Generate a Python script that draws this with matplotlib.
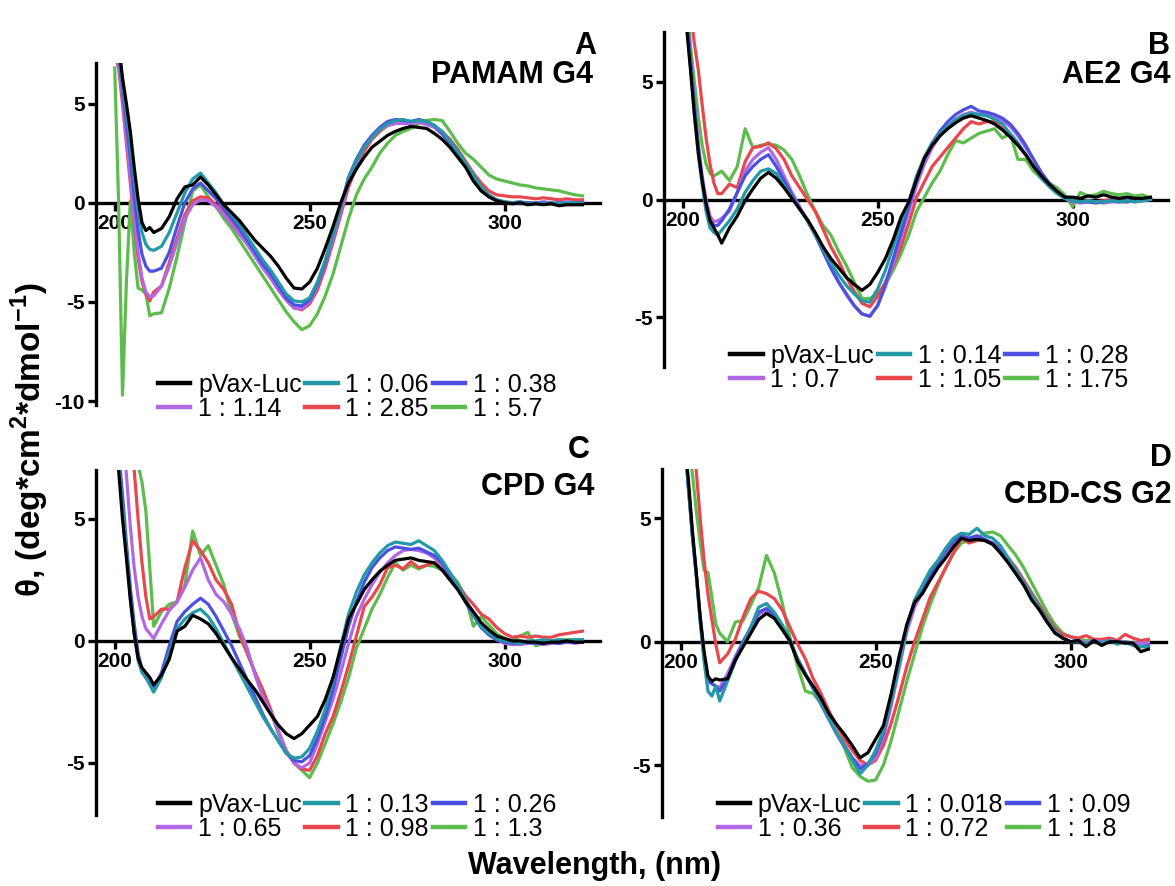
import numpy as np
import matplotlib.pyplot as plt

plt.rcParams['font.family'] = ['Liberation Sans', 'DejaVu Sans']
plt.rcParams['axes.unicode_minus'] = False
plt.rcParams['mathtext.fontset'] = 'custom'
plt.rcParams['mathtext.rm'] = 'Liberation Sans'
plt.rcParams['mathtext.bf'] = 'Liberation Sans:bold'

# Wavelength grid (nm): 1 nm steps up to 210, then 2 nm steps
wavelength = np.r_[200:211, 212:321:2]

colors = ['#000000', '#2399a8', '#4b50e0', '#b168e4', '#e8474e', '#5dbd4c']

# ---- A: PAMAM G4 ----
labels_a = ['pVax-Luc', '1 : 0.06', '1 : 0.38', '1 : 1.14', '1 : 2.85', '1 : 5.7']
a_dna = [9.5, 8.0, 6.3, 5.0, 3.6, 1.8, 0.2, -1.0, -1.4, -1.25, -1.5,
         -1.3, -0.7, 0.2, 0.8, 0.9, 1.3, 0.9, 0.4, -0.1, -0.5,
         -0.9, -1.4, -1.9, -2.3, -2.7, -3.2, -3.8, -4.3, -4.35, -4.0,
         -3.3, -2.3, -1.2, 0.0, 1.0, 1.7, 2.3, 2.8, 3.1, 3.4,
         3.6, 3.75, 3.85, 3.8, 3.75, 3.5, 3.2, 2.8, 2.3, 1.8,
         1.1, 0.6, 0.3, 0.1, 0.0, -0.05, 0.0, -0.1, -0.05, -0.1,
         -0.05, -0.15, -0.1, -0.1, -0.1]
a_r1 = [9.5, 8.0, 6.0, 4.5, 3.0, 1.2, -0.4, -1.5, -2.1, -2.35, -2.4,
        -2.2, -1.5, -0.5, 0.5, 1.2, 1.5, 1.0, 0.5, -0.1, -0.6,
        -1.1, -1.7, -2.3, -2.9, -3.4, -4.0, -4.6, -4.95, -5.0, -4.8,
        -4.0, -2.9, -1.6, -0.2, 1.2, 2.1, 2.8, 3.3, 3.7, 4.0,
        4.15, 4.2, 4.1, 4.15, 4.1, 3.9, 3.6, 3.1, 2.6, 2.0,
        1.4, 0.8, 0.4, 0.15, 0.05, 0.0, 0.05, -0.05, 0.0, -0.05,
        0.0, -0.05, 0.0, 0.0, -0.05]
a_r2 = [9.0, 7.5, 5.8, 4.0, 2.3, 0.3, -1.4, -2.6, -3.2, -3.45, -3.45,
        -3.3, -2.5, -1.2, 0.0, 0.7, 1.0, 0.6, 0.2, -0.3, -0.8,
        -1.3, -1.9, -2.5, -3.1, -3.6, -4.2, -4.8, -5.15, -5.2, -4.9,
        -4.1, -3.0, -1.6, -0.2, 1.3, 2.2, 2.9, 3.4, 3.8, 4.1,
        4.2, 4.15, 4.1, 4.2, 4.1, 3.9, 3.5, 3.0, 2.5, 1.9,
        1.3, 0.7, 0.3, 0.1, 0.0, 0.0, -0.05, 0.0, -0.05, 0.0,
        -0.05, 0.0, -0.05, 0.0, 0.0]
a_r3 = [8.0, 7.0, 5.3, 3.3, 1.3, -0.8, -2.5, -3.8, -4.5, -4.75, -4.7,
        -4.2, -3.2, -2.0, -0.8, -0.1, 0.15, 0.1, -0.2, -0.6, -1.1,
        -1.6, -2.1, -2.7, -3.3, -3.8, -4.4, -4.9, -5.3, -5.35, -5.0,
        -4.2, -3.1, -1.8, -0.4, 1.0, 2.0, 2.8, 3.3, 3.7, 3.9,
        4.0, 4.0, 4.0, 4.05, 3.95, 3.8, 3.45, 3.0, 2.5, 1.9,
        1.3, 0.75, 0.35, 0.15, 0.05, 0.0, 0.05, 0.0, 0.0, 0.05,
        0.0, 0.0, 0.05, 0.0, 0.0]
a_r4 = [7.5, 6.8, 5.0, 3.0, 1.0, -1.0, -2.8, -4.0, -4.6, -4.95, -4.5,
        -4.2, -3.0, -1.8, -0.6, 0.1, 0.3, 0.25, -0.1, -0.5, -1.0,
        -1.5, -2.0, -2.6, -3.2, -3.8, -4.4, -4.9, -5.3, -5.4, -5.1,
        -4.4, -3.3, -2.0, -0.6, 0.8, 1.8, 2.6, 3.2, 3.6, 3.9,
        4.0, 4.05, 4.0, 4.1, 4.0, 3.85, 3.6, 3.2, 2.7, 2.1,
        1.5, 1.0, 0.6, 0.4, 0.35, 0.3, 0.3, 0.25, 0.2, 0.25,
        0.2, 0.15, 0.2, 0.15, 0.15]
a_r5 = [6.8, 0.0, -9.7, -4.0, 0.1, -2.5, -4.3, -4.4, -4.6, -5.7, -5.6,
        -5.55, -4.3, -2.7, -1.0, 0.6, 0.9, 0.3, -0.2, -0.8, -1.3,
        -1.9, -2.5, -3.1, -3.7, -4.3, -4.9, -5.5, -6.0, -6.4, -6.2,
        -5.6, -4.7, -3.6, -2.2, -0.8, 0.4, 1.2, 1.8, 2.5, 3.0,
        3.4, 3.6, 3.75, 4.0, 4.15, 4.2, 4.15, 3.6, 3.0, 2.5,
        2.2, 1.8, 1.4, 1.2, 1.1, 1.0, 0.9, 0.85, 0.75, 0.7,
        0.65, 0.6, 0.5, 0.4, 0.35]

# ---- B: AE2 G4 ----
labels_b = ['pVax-Luc', '1 : 0.14', '1 : 0.28', '1 : 0.7', '1 : 1.05', '1 : 1.75']
b_dna = [9.5, 7.3, 5.5, 3.6, 2.0, 0.8, -0.2, -0.9, -1.2, -1.5, -1.85,
         -1.2, -0.7, -0.05, 0.45, 0.9, 1.15, 0.9, 0.5, 0.05, -0.4,
         -0.85, -1.4, -2.0, -2.5, -2.9, -3.3, -3.6, -3.85, -3.6, -3.1,
         -2.5, -1.7, -0.75, -0.1, 0.85, 1.75, 2.3, 2.7, 3.0, 3.25,
         3.45, 3.55, 3.45, 3.35, 3.2, 2.95, 2.65, 2.3, 1.9, 1.4,
         1.0, 0.65, 0.35, 0.1, 0.1, 0.05, 0.15, 0.1, 0.2, 0.1,
         0.05, 0.1, 0.05, 0.05, 0.1]
b_r1 = [9.5, 7.5, 5.6, 3.6, 1.9, 0.6, -0.5, -1.2, -1.4, -1.5, -1.3,
        -0.9, -0.4, 0.3, 0.8, 1.2, 1.3, 1.1, 0.6, 0.1, -0.4,
        -0.9, -1.5, -2.1, -2.7, -3.2, -3.65, -4.0, -4.3, -4.35, -3.8,
        -3.0, -2.0, -1.0, -0.1, 1.0, 1.8, 2.4, 2.8, 3.1, 3.4,
        3.55, 3.65, 3.6, 3.55, 3.4, 3.2, 2.8, 2.4, 1.9, 1.4,
        0.9, 0.55, 0.25, 0.05, -0.05, -0.1, -0.05, -0.1, -0.1, -0.05,
        -0.1, -0.05, -0.1, -0.05, 0.0]
b_r2 = [9.5, 8.0, 6.0, 4.0, 2.2, 0.8, -0.3, -0.9, -1.1, -1.1, -0.9,
        -0.4, 0.3, 1.0, 1.4, 1.7, 1.9, 1.4, 0.8, 0.2, -0.4,
        -0.9, -1.5, -2.2, -2.9, -3.5, -4.0, -4.5, -4.85, -4.95, -4.5,
        -3.6, -2.5, -1.4, -0.3, 0.8, 1.7, 2.4, 2.9, 3.3, 3.6,
        3.8, 3.95, 3.75, 3.7, 3.6, 3.45, 3.2, 2.8, 2.3, 1.7,
        1.15, 0.7, 0.35, 0.1, -0.05, -0.1, -0.1, -0.15, -0.1, -0.05,
        -0.1, -0.1, -0.05, 0.0, 0.05]
b_r3 = [9.5, 8.0, 6.0, 4.2, 2.4, 1.0, 0.0, -0.7, -0.95, -0.9, -0.8,
        -0.5, 0.3, 1.2, 1.7, 2.0, 2.2, 1.7, 1.0, 0.3, -0.3,
        -0.9, -1.5, -2.2, -2.9, -3.5, -4.05, -4.5, -4.85, -4.95, -4.5,
        -3.7, -2.7, -1.6, -0.5, 0.6, 1.5, 2.2, 2.7, 3.1, 3.4,
        3.6, 3.7, 3.6, 3.6, 3.5, 3.35, 3.1, 2.7, 2.2, 1.7,
        1.1, 0.65, 0.3, 0.05, -0.1, -0.15, -0.1, -0.1, -0.15, -0.1,
        -0.1, -0.05, -0.1, -0.05, 0.0]
b_r4 = [12.0, 10.0, 8.0, 6.6, 5.5, 4.0, 2.6, 1.5, 0.7, 0.25, 0.25,
        0.65, 0.5, 1.6, 2.2, 2.25, 2.4, 2.15, 1.7, 1.0, 0.5,
        0.0, -0.5, -1.25, -2.0, -2.6, -3.3, -3.9, -4.4, -4.55, -4.1,
        -3.5, -2.8, -2.0, -1.0, 0.1, 0.75, 1.4, 1.8, 2.2, 2.6,
        3.0, 3.3, 3.2, 3.3, 3.3, 3.0, 2.7, 2.3, 1.9, 1.4,
        0.95, 0.6, 0.3, 0.05, -0.05, -0.1, -0.05, -0.1, -0.05, 0.0,
        -0.05, -0.1, -0.05, 0.0, 0.05]
b_r5 = [10.0, 8.5, 6.5, 5.0, 3.5, 2.3, 1.5, 1.1, 1.0, 1.1, 1.2,
        0.8, 1.4, 3.0, 2.2, 2.3, 2.35, 2.3, 2.1, 1.7, 1.0,
        0.2, -0.5, -1.1, -1.5, -2.2, -2.8, -3.5, -4.2, -4.2, -4.0,
        -3.6, -3.0, -2.3, -1.5, -0.5, 0.1, 0.7, 1.2, 1.9, 2.5,
        2.4, 2.6, 2.8, 2.9, 3.0, 2.6, 2.8, 1.7, 1.7, 1.2,
        0.9, 0.7, 0.5, 0.2, -0.3, 0.3, 0.15, 0.2, 0.35, 0.25,
        0.2, 0.25, 0.15, 0.2, 0.05]

# ---- C: CPD G4 ----
labels_c = ['pVax-Luc', '1 : 0.13', '1 : 0.26', '1 : 0.65', '1 : 0.98', '1 : 1.3']
c_dna = [9.0, 7.0, 5.0, 3.4, 1.7, 0.3, -0.7, -1.1, -1.3, -1.5, -1.8,
         -1.4, -0.75, 0.4, 0.6, 1.05, 0.9, 0.7, 0.3, -0.2, -0.7,
         -1.15, -1.6, -2.0, -2.5, -3.0, -3.45, -3.8, -4.0, -3.8, -3.45,
         -3.1, -2.4, -1.5, -0.3, 0.9, 1.5, 2.1, 2.5, 2.85, 3.1,
         3.3, 3.35, 3.4, 3.3, 3.25, 3.2, 2.9, 2.5, 2.1, 1.6,
         1.2, 0.75, 0.45, 0.2, 0.1, 0.0, 0.0, -0.05, -0.05, -0.1,
         -0.05, -0.05, 0.0, -0.05, -0.05]
c_r1 = [9.5, 7.5, 5.5, 3.6, 1.8, 0.3, -0.8, -1.3, -1.5, -1.8, -2.1,
        -1.5, -0.5, 0.5, 0.9, 1.15, 1.3, 1.0, 0.5, -0.1, -0.7,
        -1.3, -1.9, -2.5, -3.1, -3.6, -4.1, -4.6, -4.8, -4.75, -4.4,
        -3.7, -2.8, -1.6, -0.2, 1.1, 2.0, 2.7, 3.2, 3.6, 3.9,
        4.05, 4.0, 3.95, 4.1, 3.9, 3.7, 3.3, 2.8, 2.3, 1.7,
        1.1, 0.6, 0.3, 0.1, 0.0, -0.05, -0.1, 0.0, 0.0, 0.05,
        0.0, 0.05, 0.0, 0.05, 0.05]
c_r2 = [9.5, 7.8, 6.0, 4.0, 2.2, 0.7, -0.5, -1.2, -1.5, -1.75, -1.95,
        -1.3, -0.2, 0.8, 1.2, 1.5, 1.75, 1.5, 1.0, 0.4, -0.2,
        -0.9, -1.6, -2.3, -3.0, -3.6, -4.1, -4.6, -4.9, -4.95, -4.7,
        -4.0, -3.1, -2.0, -0.7, 0.6, 1.6, 2.4, 3.0, 3.4, 3.7,
        3.85, 3.8, 3.75, 3.8, 3.65, 3.5, 3.2, 2.7, 2.2, 1.6,
        1.05, 0.55, 0.25, 0.05, -0.05, -0.1, -0.1, -0.05, -0.1, -0.1,
        -0.05, -0.1, -0.05, -0.05, -0.05]
c_r3 = [14.0, 11.0, 8.5, 6.8, 4.7, 3.0, 1.8, 1.0, 0.5, 0.3, 0.1,
        0.7, 1.25, 1.6, 2.2, 2.9, 3.4, 2.5, 1.9, 1.6, 1.1,
        0.5, -0.3, -1.4, -2.3, -2.9, -3.7, -4.5, -5.0, -5.2, -5.0,
        -4.2, -3.3, -2.4, -1.3, -0.1, 1.0, 1.7, 2.3, 2.8, 3.2,
        3.5, 3.7, 3.75, 3.7, 3.6, 3.4, 3.1, 2.7, 2.2, 1.6,
        1.05, 0.6, 0.25, 0.05, -0.1, -0.15, -0.15, -0.1, -0.1, -0.15,
        -0.1, -0.1, -0.05, -0.1, -0.05]
c_r4 = [16.0, 14.0, 12.0, 10.0, 8.5, 7.0, 5.0, 3.2, 1.8, 0.9, 1.0,
        1.3, 1.3, 1.6, 3.0, 4.1, 3.7, 3.2, 2.5, 2.1, 1.5,
        0.3, -0.5, -1.3, -2.0, -2.8, -3.7, -4.5, -5.0, -5.25, -5.3,
        -4.7, -3.8, -3.1, -2.1, -1.0, 0.2, 1.4, 1.8, 2.3, 3.0,
        3.1, 2.95, 3.25, 3.0, 3.1, 3.2, 2.95, 2.65, 2.3, 1.85,
        1.5, 1.1, 0.9, 0.55, 0.3, 0.15, 0.2, 0.15, 0.2, 0.15,
        0.15, 0.25, 0.3, 0.35, 0.4]
c_r5 = [18.0, 16.0, 14.0, 12.0, 10.0, 8.5, 7.2, 6.5, 5.3, 3.0, 0.6,
        1.2, 1.5, 1.6, 2.3, 4.5, 3.5, 3.9, 3.1, 2.3, 1.1,
        0.2, -0.5, -1.3, -2.1, -2.9, -3.8, -4.5, -5.0, -5.3, -5.6,
        -5.0, -4.2, -3.4, -2.5, -1.5, -0.3, 0.5, 1.3, 1.9, 2.6,
        3.2, 2.9, 3.1, 2.95, 3.1, 3.05, 2.9, 2.75, 2.4, 1.8,
        0.6, 1.0, 0.65, 0.3, 0.1, 0.0, 0.2, 0.35, -0.2, -0.1,
        0.0, 0.05, 0.05, 0.05, 0.05]

# ---- D: CBD-CS G2 ----
labels_d = ['pVax-Luc', '1 : 0.018', '1 : 0.09', '1 : 0.36', '1 : 0.72', '1 : 1.8']
d_dna = [10.0, 8.2, 6.5, 4.5, 2.8, 1.0, -0.4, -1.4, -1.6, -1.5, -1.55,
         -1.5, -0.75, -0.2, 0.35, 0.9, 1.15, 0.95, 0.5, 0.05, -0.8,
         -1.35, -1.8, -2.3, -2.9, -3.35, -3.75, -4.2, -4.7, -4.5, -3.95,
         -3.4, -2.1, -0.6, 0.7, 1.6, 1.95, 2.5, 3.0, 3.4, 3.85,
         4.2, 4.1, 4.15, 4.1, 3.95, 3.6, 3.2, 2.75, 2.3, 1.7,
         1.3, 0.8, 0.35, 0.15, 0.0, 0.05, -0.2, 0.05, -0.15, 0.0,
         0.0, -0.05, -0.05, -0.4, -0.3]
d_r1 = [10.0, 8.2, 6.2, 4.3, 2.7, 0.8, -0.8, -2.0, -2.2, -1.8, -2.4,
        -1.6, -0.8, -0.1, 0.6, 1.4, 1.55, 1.2, 0.7, 0.1, -0.7,
        -1.3, -1.9, -2.5, -3.1, -3.7, -4.2, -4.8, -5.35, -5.0, -4.4,
        -3.6, -2.4, -0.9, 0.6, 1.7, 2.3, 2.9, 3.3, 3.8, 4.2,
        4.4, 4.35, 4.6, 4.3, 4.2, 3.9, 3.4, 2.9, 2.4, 1.9,
        1.4, 0.9, 0.45, 0.15, 0.0, 0.0, -0.1, 0.0, -0.05, 0.05,
        -0.1, 0.0, -0.15, -0.2, -0.2]
d_r2 = [10.0, 8.2, 6.2, 4.3, 2.7, 0.9, -0.6, -1.6, -1.7, -1.8, -2.0,
        -1.5, -0.7, 0.0, 0.6, 1.2, 1.35, 1.1, 0.6, 0.0, -0.7,
        -1.3, -1.9, -2.5, -3.1, -3.7, -4.2, -4.7, -5.15, -4.95, -4.5,
        -3.7, -2.4, -0.9, 0.6, 1.6, 2.1, 2.7, 3.2, 3.7, 4.1,
        4.3, 4.2, 4.3, 4.15, 4.0, 3.7, 3.3, 2.85, 2.35, 1.8,
        1.3, 0.8, 0.4, 0.15, 0.0, 0.05, -0.1, 0.05, -0.05, 0.0,
        0.0, -0.05, -0.1, -0.2, -0.15]
d_r3 = [10.0, 8.2, 6.2, 4.3, 2.7, 1.0, -0.5, -1.5, -1.7, -1.8, -1.85,
        -1.3, -0.6, 0.0, 0.5, 1.1, 1.3, 1.0, 0.55, 0.0, -0.7,
        -1.3, -1.9, -2.55, -3.15, -3.75, -4.25, -4.7, -5.0, -5.0, -4.7,
        -3.9, -2.6, -1.1, 0.4, 1.4, 2.0, 2.6, 3.1, 3.6, 4.0,
        4.2, 4.1, 4.2, 4.1, 3.95, 3.65, 3.25, 2.8, 2.3, 1.8,
        1.3, 0.8, 0.4, 0.15, 0.0, 0.05, -0.05, 0.05, 0.0, 0.05,
        0.0, 0.0, -0.05, -0.05, -0.05]
d_r4 = [14.0, 12.0, 10.0, 8.5, 6.9, 5.0, 3.3, 1.9, 0.9, -0.1, -0.85,
        -0.5, 0.1, 1.0, 1.75, 2.05, 1.95, 1.75, 1.3, 0.6, -0.1,
        -0.7, -1.5, -2.1, -2.8, -3.4, -3.95, -4.4, -4.8, -5.0, -4.8,
        -4.2, -3.3, -2.2, -1.0, 0.0, 0.9, 1.8, 2.4, 3.0, 3.6,
        4.2, 4.0, 4.1, 4.15, 4.0, 3.8, 3.4, 3.0, 2.5, 2.0,
        1.5, 1.0, 0.55, 0.3, 0.2, 0.15, 0.25, 0.1, 0.1, 0.15,
        0.05, 0.3, 0.15, 0.05, 0.1]
d_r5 = [12.0, 10.0, 8.2, 6.8, 5.3, 4.0, 2.9, 2.8, 1.8, 0.7, 0.35,
        0.0, 0.8, 0.85, 1.5, 2.2, 3.5, 2.8, 1.6, 0.2, -1.0,
        -2.0, -2.1, -2.5, -3.1, -3.7, -4.3, -5.1, -5.45, -5.65, -5.6,
        -5.0, -4.0, -2.8, -1.6, -0.5, 0.6, 1.5, 2.3, 3.0, 3.6,
        4.0, 4.1, 4.2, 4.4, 4.45, 4.3, 3.9, 3.5, 3.0, 2.4,
        1.8, 1.2, 0.7, 0.35, 0.2, 0.1, 0.05, 0.1, 0.0, 0.05,
        0.0, 0.0, -0.05, 0.0, 0.0]

W, H = 1175, 886
fig = plt.figure(figsize=(W / 100, H / 100), dpi=100)


def px_rect(left, top, right, bottom):
    return [left / W, 1 - bottom / H, (right - left) / W, (bottom - top) / H]


panels = [
    dict(rect=px_rect(96, 63, 600, 405), ylim=(-10.2, 7.05), yticks=[-10, -5, 0, 5],
         curves=[a_dna, a_r1, a_r2, a_r3, a_r4, a_r5], labels=labels_a,
         letter='A', name='PAMAM G4', ty=(46, 75), tx=(596, 593), leg=(0.123, 0.095)),
    dict(rect=px_rect(664, 32, 1168, 367), ylim=(-7.1, 7.1), yticks=[-5, 0, 5],
         curves=[b_dna, b_r1, b_r2, b_r3, b_r4, b_r5], labels=labels_b,
         letter='B', name='AE2 G4', ty=(46, 75), tx=(1170, 1170), leg=(0.131, 0.068)),
    dict(rect=px_rect(96, 470, 600, 815), ylim=(-7.13, 7.0), yticks=[-5, 0, 5],
         curves=[c_dna, c_r1, c_r2, c_r3, c_r4, c_r5], labels=labels_c,
         letter='C', name='CPD G4', ty=(450, 487), tx=(590, 594), leg=(0.123, 0.065)),
    dict(rect=px_rect(662, 469, 1166, 817), ylim=(-7.1, 7.0), yticks=[-5, 0, 5],
         curves=[d_dna, d_r1, d_r2, d_r3, d_r4, d_r5], labels=labels_d,
         letter='D', name='CBD-CS G2', ty=(458, 495), tx=(1172, 1172), leg=(0.111, 0.07)),
]

# legend fills column by column; this order gives rows of three
leg_order = [0, 3, 1, 4, 2, 5]

for p in panels:
    ax = fig.add_axes(p['rect'])
    handles = []
    for i, (y, c, lab) in enumerate(zip(p['curves'], colors, p['labels'])):
        ln, = ax.plot(wavelength, y, color=c, lw=2.3, label=lab, zorder=10 - i)
        handles.append(ln)

    ax.set_xlim(195.2, 324.5)
    ax.set_ylim(*p['ylim'])
    ax.spines['top'].set_visible(False)
    ax.spines['right'].set_visible(False)
    ax.spines['bottom'].set_position(('data', 0))
    for s in ('left', 'bottom'):
        ax.spines[s].set_linewidth(2.4)
    ax.set_xticks([200, 250, 300])
    ax.set_yticks(p['yticks'])
    ax.tick_params(axis='both', direction='out', length=6, width=2.4,
                   labelsize=15, pad=2)
    for t in ax.get_xticklabels() + ax.get_yticklabels():
        t.set_fontweight('bold')

    leg = ax.legend([handles[k] for k in leg_order],
                    [p['labels'][k] for k in leg_order],
                    ncol=3, loc='upper left', bbox_to_anchor=p['leg'],
                    frameon=False, fontsize=18, handlelength=1.3,
                    handletextpad=0.3, columnspacing=0.15, labelspacing=0.0,
                    borderpad=0, borderaxespad=0)
    for ln in leg.get_lines():
        ln.set_linewidth(3.2)

    fig.text(p['tx'][0] / W, 1 - p['ty'][0] / H, p['letter'], ha='right',
             va='center', fontsize=22, fontweight='bold')
    fig.text(p['tx'][1] / W, 1 - p['ty'][1] / H, p['name'], ha='right',
             va='center', fontsize=22, fontweight='bold')

fig.text(595 / W, 1 - 866 / H, 'Wavelength, (nm)', ha='center', va='center',
         fontsize=22, fontweight='bold')
fig.text(30 / W, 1 - 440 / H,
         r'θ, (deg*cm$^{\mathbf{2}}$*dmol$^{\mathbf{-1}}$)',
         rotation=90, ha='center', va='center', fontsize=24, fontweight='bold')

fig.savefig('out.png', dpi=100)
